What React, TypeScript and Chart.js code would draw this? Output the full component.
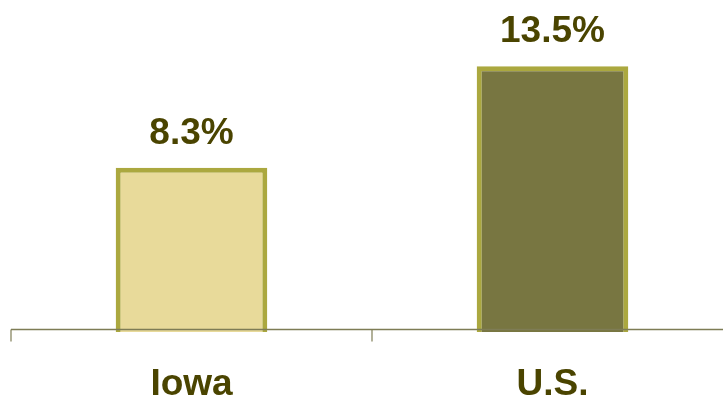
import React, { useEffect, useRef } from "react";
import { Chart, registerables } from "chart.js";

Chart.register(...registerables);

const categories = ["Iowa", "U.S."];
const values = [8.3, 13.5];
const valueLabels = ["8.3%", "13.5%"];
const fillColors = ["#E8DA9A", "#787641"];
const borderColor = "#ABA83F";
const textColor = "#4A4400";
const axisColor = "#7E7C55";

const Y_MIN = -0.128;
const Y_MAX = 16.9;

const overlayPlugin = {
  id: "overlay",
  afterDatasetsDraw(chart: any) {
    const ctx = chart.ctx;
    const xs = chart.scales.x;
    const ys = chart.scales.y;
    const y0 = ys.getPixelForValue(0);
    ctx.save();
    // axis line
    ctx.strokeStyle = axisColor;
    ctx.lineWidth = 1.5;
    ctx.beginPath();
    ctx.moveTo(xs.left, y0);
    ctx.lineTo(xs.right, y0);
    ctx.stroke();
    // tick marks at category boundaries
    const n = categories.length;
    ctx.lineWidth = 1.2;
    for (let i = 0; i <= n; i++) {
      const x = xs.left + (i * xs.width) / n;
      ctx.beginPath();
      ctx.moveTo(x, y0);
      ctx.lineTo(x, y0 + 12);
      ctx.stroke();
    }
    // value labels
    const meta = chart.getDatasetMeta(0);
    ctx.fillStyle = textColor;
    ctx.font = "bold 37px 'Liberation Sans', Arial, sans-serif";
    ctx.textAlign = "center";
    ctx.textBaseline = "alphabetic";
    meta.data.forEach((bar: any, i: number) => {
      const top = ys.getPixelForValue(values[i]);
      ctx.fillText(valueLabels[i], bar.x, top - 24);
    });
    ctx.restore();
  },
};

export default function App() {
  const ref = useRef<HTMLCanvasElement>(null);
  useEffect(() => {
    if (!ref.current) return;
    const chart = new Chart(ref.current, {
      type: "bar",
      data: {
        labels: categories,
        datasets: [
          {
            data: values,
            backgroundColor: fillColors,
            borderColor: borderColor,
            borderWidth: 5,
            base: Y_MIN,
            barPercentage: 0.84,
            categoryPercentage: 0.5,
          },
        ],
      },
      options: {
        animation: false,
        responsive: false,
        maintainAspectRatio: false,
        layout: { padding: { left: 11, right: 12, top: 0, bottom: 0 } },
        plugins: { legend: { display: false }, tooltip: { enabled: false } },
        scales: {
          x: {
            offset: true,
            grid: { display: false, drawTicks: false },
            border: { display: false },
            ticks: {
              color: textColor,
              padding: 31,
              font: { family: "'Liberation Sans', Arial, sans-serif", size: 37, weight: "bold" },
            },
            afterFit: (scale: any) => {
              scale.height = 73;
            },
          },
          y: {
            display: false,
            min: Y_MIN,
            max: Y_MAX,
          },
        },
      },
      plugins: [overlayPlugin],
    });
    return () => chart.destroy();
  }, []);
  return (
    <div
      style={{
        position: "absolute",
        left: 0,
        top: 0,
        width: 723,
        height: 405,
        overflow: "hidden",
        background: "#fff",
      }}
    >
      <canvas ref={ref} width={745} height={405} style={{ display: "block" }} />
    </div>
  );
}
